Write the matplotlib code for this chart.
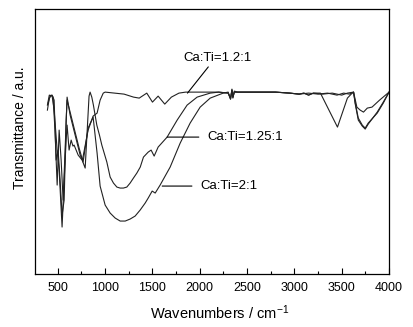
#!/usr/bin/env python

import matplotlib

matplotlib.use("Agg")
import matplotlib.pyplot as plt
import matplotlib.ticker as ticker

# FTIR spectra, transmittance in arbitrary units
wn_12 = [390, 410, 430, 450, 470, 493, 514, 535, 556, 577, 598, 630, 683, 736,
         760, 820, 873, 915, 947, 980, 1000, 1100, 1200, 1300, 1360, 1440, 1500,
         1560, 1630, 1700, 1780, 1850, 2000, 2200, 2300, 2325, 2340, 2350, 2365,
         2400, 2600, 2800, 2950, 3050, 3100, 3150, 3200, 3275, 3455, 3560, 3600,
         3625, 3660, 3695, 3730, 3770, 3820, 3900, 4000]
t_12 = [164, 176, 179, 177, 144, 89, 144, 114, 74, 124, 177, 159, 139, 119,
        114, 144, 158, 161, 174, 181, 182, 181, 180, 177, 176, 181, 172,
        178, 170, 177, 181, 182, 182, 182, 181, 175, 185, 176, 183,
        182, 182, 182, 181, 180, 181, 179, 181, 181, 147, 176, 180,
        182, 167, 164, 162, 166, 167, 174, 182]

wn_125 = [390, 410, 440, 461, 493, 514, 545, 567, 588, 598, 619, 641, 660, 672,
          715, 757, 789, 830, 841, 859, 876, 894, 912, 940, 965, 1018, 1053, 1088,
          1124, 1159, 1193, 1229, 1264, 1299, 1335, 1371, 1405, 1455, 1486, 1518,
          1560, 1655, 1761, 1866, 1972, 2110, 2200, 2300, 2325, 2340, 2350, 2365,
          2400, 2600, 2800, 2950, 3050, 3100, 3150, 3200, 3300, 3400, 3500, 3560,
          3625, 3643, 3675, 3717, 3748, 3780, 3875, 3939, 4000]
t_125 = [169, 179, 178, 164, 124, 104, 47, 94, 134, 149, 124, 134, 128, 129,
         119, 114, 106, 178, 182, 177, 169, 159, 149, 139, 129, 112, 97, 91,
         87, 86, 86, 87, 91, 96, 101, 107, 117, 122, 124, 118,
         127, 137, 154, 169, 177, 181, 182, 181, 176, 184, 177, 182,
         182, 182, 182, 181, 180, 181, 179, 181, 180, 181, 179, 181,
         182, 171, 156, 149, 146, 151, 161, 171, 182]

wn_21 = [397, 419, 440, 461, 482, 503, 524, 545, 567, 588, 598, 630, 672, 725,
         767, 820, 873, 915, 947, 1000, 1053, 1106, 1159, 1212, 1264, 1317, 1370,
         1423, 1455, 1497, 1529, 1581, 1687, 1793, 1898, 2004, 2110, 2247, 2300,
         2325, 2340, 2350, 2365, 2400, 2600, 2800, 2950, 3050, 3150, 3250, 3350,
         3450, 3520, 3580, 3625, 3643, 3675, 3717, 3748, 3780, 3875, 3939, 4000]
t_21 = [171, 178, 179, 174, 114, 124, 94, 59, 74, 154, 174, 162, 146, 126,
        112, 146, 157, 121, 88, 69, 61, 56, 53, 53, 55, 58, 64,
        71, 76, 83, 81, 89, 107, 131, 151, 167, 176, 181, 182,
        175, 184, 177, 182, 182, 182, 182, 181, 180, 181, 180, 181,
        179, 181, 180, 182, 170, 154, 148, 145, 150, 162, 172, 182]

labels = ["Ca:Ti=1.2:1", "Ca:Ti=1.25:1", "Ca:Ti=2:1"]
label_points = [(1870, 181), (1655, 137), (1603, 88)]
label_texts = [(1830, 216), (2078, 137), (2005, 88)]

x_ticks = [500, 1000, 1500, 2000, 2500, 3000, 3500, 4000]


def draw_spectra(axis: plt.Axes) -> None:
    """
    Plot the three spectra as thin dark lines.
    """
    for wn, t in ((wn_12, t_12), (wn_125, t_125), (wn_21, t_21)):
        axis.plot(wn, t, color="#222222", linewidth=0.8)


def draw_labels(axis: plt.Axes) -> None:
    """
    Put the sample names next to their curves with a plain leader line.
    """
    rel = [(0.4, 0.05), (0.0, 0.5), (0.0, 0.5)]
    shrink = [0, 4, 4]
    for name, xy, xytext, rp, sh in zip(labels, label_points, label_texts, rel, shrink):
        axis.annotate(
            name,
            xy=xy,
            xytext=xytext,
            fontsize=9.5,
            va="center",
            ha="left",
            arrowprops=dict(arrowstyle="-", color="black", linewidth=0.8,
                            relpos=rp, shrinkA=sh, shrinkB=0),
        )


def main() -> int:
    plt.rcParams["font.family"] = ["Liberation Sans", "DejaVu Sans"]
    plt.rcParams["mathtext.default"] = "regular"

    figure = plt.figure(figsize=(4.13, 3.27), dpi=100)
    axis = figure.add_axes([0.085, 0.162, 0.857, 0.81])

    draw_spectra(axis)
    draw_labels(axis)

    axis.set_xlim(260, 4000)
    axis.set_ylim(0, 265)
    axis.set_xticks(x_ticks)
    axis.xaxis.set_minor_locator(ticker.MultipleLocator(250))
    axis.tick_params(axis="x", which="major", direction="in", length=4,
                     width=0.8, labelsize=9, pad=6)
    axis.tick_params(axis="x", which="minor", direction="in", length=2.5, width=0.8)
    axis.set_yticks([])
    for spine in axis.spines.values():
        spine.set_linewidth(0.9)

    axis.set_xlabel("Wavenumbers / cm$^{-1}$", fontsize=10.5, va="center")
    axis.xaxis.set_label_coords(0.52, -0.145)
    axis.set_ylabel("Transmittance / a.u.", fontsize=10, va="center")
    axis.yaxis.set_label_coords(-0.042, 0.553)

    figure.savefig("out.png", dpi=100)
    return 0


if __name__ == "__main__":
    main()
